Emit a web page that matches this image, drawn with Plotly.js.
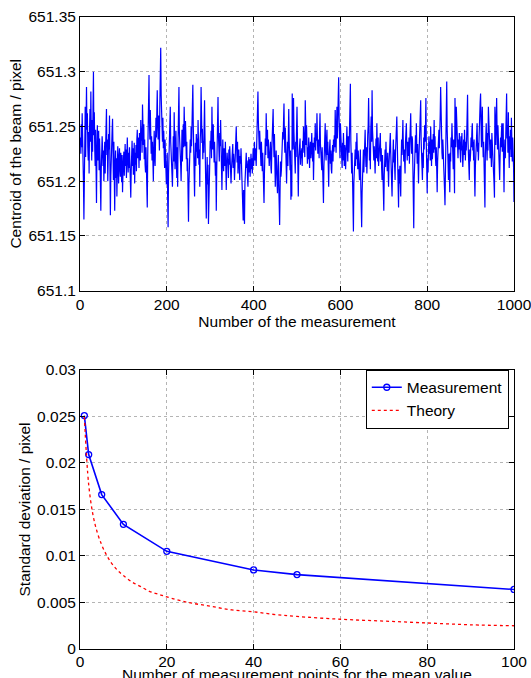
<!DOCTYPE html>
<html>
<head>
<meta charset="utf-8">
<script src="https://cdn.plot.ly/plotly-3.0.1.min.js"></script>
<style>
html,body{margin:0;padding:0;background:#fff;}
#chart{width:531px;height:678px;}
</style>
</head>
<body>
<div id="chart"></div>
<script>
const centroid = [
651.240,651.225,651.252,651.231,651.262,651.214,651.236,651.198,651.165,651.210,
651.244,651.268,651.222,651.259,651.286,651.247,651.262,651.231,651.219,651.245,
651.207,651.248,651.266,651.236,651.282,651.241,651.219,651.256,651.227,651.268,
651.300,651.242,651.263,651.229,651.214,651.247,651.205,651.180,651.228,651.251,
651.219,651.235,651.246,651.210,651.239,651.223,651.198,651.173,651.211,651.226,
651.241,651.230,651.214,651.228,651.200,651.219,651.236,651.207,651.231,651.248,
651.266,651.224,651.238,651.200,651.212,651.243,651.229,651.260,651.214,651.169,
651.205,651.232,651.218,651.246,651.257,651.223,651.201,651.236,651.210,651.173,
651.214,651.228,651.203,651.221,651.186,651.209,651.232,651.215,651.198,651.222,
651.230,651.211,651.204,651.226,651.213,651.199,651.224,651.190,651.208,651.219,
651.227,651.205,651.222,651.234,651.214,651.229,651.203,651.218,651.240,651.221,
651.208,651.226,651.212,651.231,651.201,651.219,651.185,651.209,651.224,651.237,
651.214,651.230,651.206,651.221,651.235,651.198,651.226,651.215,651.233,651.209,
651.238,651.247,651.221,651.240,651.228,651.212,651.244,651.231,651.219,651.256,
651.237,651.249,651.226,651.270,651.241,651.233,651.252,651.220,651.238,651.215,
651.208,651.231,651.214,651.199,651.176,651.222,651.246,651.261,651.297,651.254,
651.238,651.265,651.247,651.225,651.241,651.219,651.236,651.211,651.200,651.229,
651.246,651.222,651.214,651.236,651.258,651.240,651.262,651.283,651.251,651.238,
651.260,651.247,651.228,651.271,651.294,651.322,651.279,651.255,651.243,651.236,
651.258,651.230,651.246,651.224,651.212,651.238,651.215,651.229,651.197,651.203,
651.226,651.184,651.158,651.207,651.232,651.218,651.244,651.268,651.236,651.215,
651.229,651.206,651.195,651.222,651.241,651.218,651.263,651.235,651.211,651.227,
651.246,651.220,651.203,651.231,651.195,651.238,651.252,651.286,651.244,651.221,
651.235,651.214,651.200,651.226,651.247,651.218,651.239,651.252,651.231,651.268,
651.248,651.232,651.255,651.241,651.220,651.236,651.209,651.221,651.188,651.163,
651.197,651.224,651.211,651.238,651.226,651.250,651.232,651.259,651.244,651.288,
651.251,651.229,651.213,651.186,651.218,651.235,651.214,651.243,651.227,651.239,
651.221,651.256,651.234,651.215,651.229,651.195,651.238,651.247,651.286,651.253,
651.235,651.248,651.220,651.237,651.226,651.251,651.274,651.239,651.213,651.228,
651.166,651.204,651.222,651.197,651.215,651.161,651.192,651.226,651.211,651.237,
651.230,651.246,651.221,651.268,651.240,651.229,651.252,651.233,651.217,651.236,
651.224,651.205,651.218,651.173,651.209,651.238,651.251,651.277,651.242,651.230,
651.218,651.244,651.232,651.256,651.227,651.209,651.192,651.215,651.238,651.221,
651.209,651.230,651.224,651.214,651.236,651.205,651.192,651.211,651.226,651.218,
651.220,651.203,651.229,651.215,651.232,651.210,651.223,651.198,651.211,651.226,
651.218,651.234,651.212,651.225,651.216,651.201,651.222,651.238,651.229,651.250,
651.231,651.217,651.236,651.207,651.220,651.229,651.212,651.201,651.223,651.216,
651.230,651.213,651.221,651.198,651.185,651.164,651.192,651.178,651.161,651.197,
651.214,651.208,651.226,651.212,651.219,651.203,651.195,651.215,651.222,651.208,
651.220,651.204,651.216,651.225,651.211,651.221,651.207,651.218,651.230,651.214,
651.226,651.236,651.219,651.230,651.222,651.214,651.235,651.248,651.261,651.282,
651.255,651.240,651.229,651.246,651.224,651.230,651.214,651.236,651.221,651.209,
651.226,651.201,651.213,651.180,651.208,651.227,651.239,651.224,651.262,651.241,
651.232,651.247,651.221,651.238,651.226,651.214,651.231,651.219,651.236,651.212,
651.207,651.229,651.241,651.250,651.266,651.237,651.222,651.243,651.218,651.195,
651.216,651.228,651.210,651.201,651.189,651.213,651.224,651.197,651.184,651.160,
651.192,651.218,651.204,651.210,651.231,651.222,651.245,651.238,651.252,651.271,
651.240,651.226,651.249,651.218,651.233,651.198,651.221,651.236,651.214,651.244,
651.266,651.237,651.224,651.210,651.228,651.183,651.215,651.186,651.280,651.243,
651.229,651.276,651.245,651.231,651.219,651.207,651.236,651.222,651.248,651.268,
651.241,651.213,651.186,651.219,651.232,651.226,651.239,651.215,651.228,651.221,
651.230,651.214,651.237,651.226,651.250,651.231,651.243,651.222,651.274,651.246,
651.233,651.251,651.238,651.216,651.231,651.220,651.240,651.224,651.212,651.229,
651.236,651.221,651.230,651.244,651.227,651.218,651.235,651.201,651.222,651.240,
651.231,651.253,651.228,651.244,651.237,651.262,651.240,651.225,651.232,651.238,
651.221,651.246,651.262,651.234,651.219,651.227,651.210,651.231,651.218,651.204,
651.180,651.213,651.229,651.241,651.253,651.226,651.219,651.238,651.247,651.224,
651.236,651.214,651.195,651.222,651.231,651.238,651.216,651.228,651.211,651.207,
651.224,651.233,651.218,651.238,651.227,651.242,651.231,651.265,651.240,651.226,
651.248,651.268,651.239,651.252,651.261,651.295,651.258,651.236,651.221,651.253,
651.238,651.226,651.223,651.212,651.235,651.219,651.244,651.228,651.214,651.233,
651.229,651.211,651.236,651.220,651.250,651.232,651.218,651.241,651.238,651.226,
651.245,651.259,651.289,651.237,651.218,651.207,651.226,651.193,651.176,651.154,
651.198,651.215,651.206,651.229,651.214,651.236,651.220,651.244,651.225,651.211,
651.228,651.207,651.219,651.201,651.213,651.229,651.196,651.177,651.158,651.190,
651.212,651.226,651.229,651.208,651.222,651.238,651.247,651.225,651.213,651.231,
651.207,651.224,651.242,651.251,651.276,651.236,651.219,651.230,651.211,651.248,
651.259,651.236,651.283,651.247,651.228,651.238,651.219,651.232,651.214,651.207,
651.226,651.239,651.221,651.253,651.232,651.218,651.240,651.214,651.229,651.223,
651.236,651.244,651.218,651.230,651.212,651.201,651.224,651.197,651.209,651.173,
651.205,651.218,651.229,651.213,651.236,651.221,651.220,651.209,651.226,651.214,
651.195,651.216,651.230,651.221,651.244,651.226,651.211,651.203,651.186,651.209,
651.224,651.238,651.217,651.229,651.213,651.201,651.226,651.240,651.231,651.259,
651.237,651.221,651.203,651.176,651.211,651.198,651.214,651.203,651.186,651.219,
651.238,651.224,651.245,651.256,651.233,651.218,651.229,651.214,651.207,651.236,
651.241,651.253,651.230,651.219,651.236,651.228,651.223,651.240,651.216,651.237,
651.248,651.262,651.236,651.225,651.241,651.238,651.214,651.190,651.157,651.201,
651.219,651.229,651.242,651.226,651.253,651.231,651.216,651.234,651.211,651.198,
651.222,651.236,651.229,651.247,651.274,651.238,651.223,651.214,651.201,651.226,
651.212,651.240,651.229,651.251,651.236,651.248,651.276,651.233,651.218,651.189,
651.221,651.208,651.229,651.241,651.225,651.236,651.219,651.250,651.232,651.214,
651.238,651.220,651.231,651.243,651.226,651.256,651.229,651.241,651.222,651.214,
651.231,651.209,651.190,651.218,651.226,651.235,651.247,651.230,651.242,651.261,
651.286,651.245,651.232,651.226,651.220,651.238,651.228,651.214,651.207,651.192,
651.178,651.219,651.243,651.262,651.291,651.248,651.231,651.219,651.201,651.225,
651.213,651.190,651.226,651.218,651.240,651.231,651.253,651.227,651.236,651.211,
651.238,651.223,651.189,651.276,651.244,651.231,651.268,651.249,651.226,651.237,
651.221,651.238,651.229,651.244,651.226,651.235,651.217,651.241,651.228,651.244,
651.230,651.213,651.223,651.238,651.224,651.247,651.238,651.219,651.236,651.228,
651.241,651.256,651.279,651.237,651.225,651.212,651.201,651.229,651.218,651.226,
651.240,651.231,651.246,651.253,651.228,651.236,651.219,651.238,651.205,651.186,
651.213,651.230,651.222,651.241,651.253,651.227,651.235,651.219,651.238,651.246,
651.261,651.272,651.280,651.243,651.231,651.249,651.268,651.238,651.222,651.236,
651.214,651.198,651.176,651.225,651.240,651.253,651.231,651.219,651.244,651.228,
651.268,651.249,651.236,651.232,651.221,651.238,651.229,651.213,651.244,651.230,
651.219,651.223,651.207,651.198,651.185,651.268,651.241,651.233,651.256,651.276,
651.247,651.229,651.251,651.238,651.226,651.214,651.201,651.223,651.240,651.231,
651.244,651.253,651.227,651.236,651.253,651.218,651.190,651.226,651.238,651.221,
651.246,651.258,651.280,651.239,651.251,651.226,651.263,651.234,651.212,651.241,
651.229,651.247,651.222,651.258,651.236,651.218,651.240,651.230,651.213,651.181
];
const measurementNo = centroid.map((_, i) => i + 1);

// ---- Bottom panel ----
const measN   = [1, 2, 5, 10, 20, 40, 50, 100];
const measStd = [0.0251, 0.0209, 0.0166, 0.0134, 0.0105, 0.0085, 0.0080, 0.0064];
const theoN   = [1, 2, 3, 4, 5, 6, 7, 8, 9, 10, 12, 14, 16, 18, 20, 25, 30, 35, 40, 45, 50, 60, 70, 80, 90, 100];
const theoStd = [0.0250, 0.0177, 0.0144, 0.0125, 0.0112, 0.0102, 0.0094, 0.0088, 0.0083, 0.0079,
                 0.0072, 0.0067, 0.0062, 0.0059, 0.0056, 0.0050, 0.0046, 0.0042, 0.0040, 0.0037,
                 0.0035, 0.0032, 0.0030, 0.0028, 0.0026, 0.0025];

// ---- Tick labels ----
const topXTicks = [0, 200, 400, 600, 800, 1000];
const topXText  = ['0', '200', '400', '600', '800', '1000'];
const topYTicks = [651.1, 651.15, 651.2, 651.25, 651.3, 651.35];
const topYText  = ['651.1', '651.15', '651.2', '651.25', '651.3', '651.35'];
const botXTicks = [0, 20, 40, 60, 80, 100];
const botXText  = ['0', '20', '40', '60', '80', '100'];
const botYTicks = [0, 0.005, 0.01, 0.015, 0.02, 0.025, 0.03];
const botYText  = ['0', '0.005', '0.01', '0.015', '0.02', '0.025', '0.03'];

const FONT = 'Arial, "Liberation Sans", Helvetica, sans-serif';
const FS = 15.5;

function axisBase(extra) {
  return Object.assign({
    showline: true, linecolor: '#000', linewidth: 1, mirror: 'ticks',
    ticks: 'inside', ticklen: 5, tickcolor: '#000', tickwidth: 1,
    showgrid: true, gridcolor: '#b4b4b4', griddash: 'dot', gridwidth: 1,
    zeroline: false, tickmode: 'array',
    tickfont: {family: FONT, size: FS, color: '#000'},
    ticklabeloverflow: 'allow',
    automargin: false
  }, extra);
}

const traces = [
  {
    x: measurementNo, y: centroid, type: 'scatter', mode: 'lines',
    line: {color: '#0000ff', width: 1.2}, xaxis: 'x', yaxis: 'y', showlegend: false
  },
  {
    x: measN, y: measStd, type: 'scatter', mode: 'lines+markers', name: 'Measurement',
    line: {color: '#0000ff', width: 1.6},
    marker: {symbol: 'circle-open', size: 6, color: '#0000ff', line: {width: 1.3}},
    xaxis: 'x2', yaxis: 'y2'
  },
  {
    x: theoN, y: theoStd, type: 'scatter', mode: 'lines', name: 'Theory',
    line: {color: '#ff0000', width: 1.3, dash: 'dot', shape: 'spline'},
    xaxis: 'x2', yaxis: 'y2'
  }
];

const layout = {
  width: 531, height: 678,
  margin: {l: 80, r: 17, t: 17, b: 29},
  paper_bgcolor: '#fff', plot_bgcolor: '#fff',
  font: {family: FONT, size: FS, color: '#000'},
  xaxis: axisBase({
    domain: [0, 1], anchor: 'y', range: [0, 1000],
    tickvals: topXTicks, ticktext: topXText,
    title: {text: 'Number of the measurement', font: {family: FONT, size: FS}, standoff: 1}
  }),
  yaxis: axisBase({
    domain: [0.567, 1], anchor: 'x', range: [651.1, 651.35],
    tickvals: topYTicks, ticktext: topYText,
    title: {text: 'Centroid of the beam / pixel', font: {family: FONT, size: FS}, standoff: 3}
  }),
  xaxis2: axisBase({
    domain: [0, 1], anchor: 'y2', range: [0, 100],
    tickvals: botXTicks, ticktext: botXText,
    ticklabelstandoff: -2
  }),
  yaxis2: axisBase({
    domain: [0, 0.4415], anchor: 'x2', range: [0, 0.03],
    tickvals: botYTicks, ticktext: botYText,
    title: {text: 'Standard deviation / pixel', font: {family: FONT, size: FS}, standoff: 2}
  }),
  annotations: [{
    text: 'Number of measurement points for the mean value',
    xref: 'paper', yref: 'paper', x: 0.5, xanchor: 'center',
    y: -0.0396, yanchor: 'middle', showarrow: false,
    font: {family: FONT, size: FS, color: '#000'}
  }],
  legend: {
    x: 0.988, xanchor: 'right', xref: 'paper',
    y: 0.442, yanchor: 'top', yref: 'paper',
    bgcolor: '#fff', bordercolor: '#000', borderwidth: 1,
    font: {family: FONT, size: FS, color: '#000'},
    tracegroupgap: 0, itemwidth: 30
  },
  showlegend: true
};

Plotly.newPlot('chart', traces, layout, {staticPlot: true, displayModeBar: false});
</script>
</body>
</html>
